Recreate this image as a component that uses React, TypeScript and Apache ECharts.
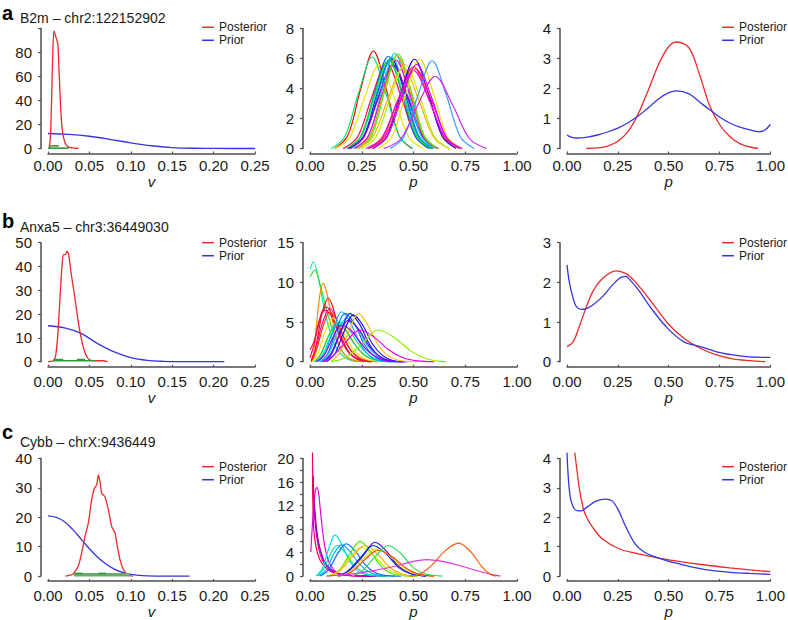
import React, { useEffect, useRef } from 'react';
import * as echarts from 'echarts';

type Pt = [number, number];

const FONT = "'Liberation Sans', Arial, Helvetica, sans-serif";

// ---------- texts ----------
const rowLetters = ['a', 'b', 'c'];
const rowTitles = ['B2m – chr2:122152902', 'Anxa5 – chr3:36449030', 'Cybb – chrX:9436449'];
const legendNames = ['Posterior', 'Prior'];
const axisNames = ['v', 'p', 'p'];

// ---------- tick labels ----------
const vTicks = [0, 0.05, 0.1, 0.15, 0.2, 0.25];
const vTickLabels = ['0.00', '0.05', '0.10', '0.15', '0.20', '0.25'];
const pTicks = [0, 0.25, 0.5, 0.75, 1];
const pTickLabels = ['0.00', '0.25', '0.50', '0.75', '1.00'];
const yTicksLeft = [[0, 20, 40, 60, 80], [0, 10, 20, 30, 40, 50], [0, 10, 20, 30, 40]];
const yMaxLeft = [100, 50, 40];
const yTicksMid = [[0, 2, 4, 6, 8], [0, 5, 10, 15], [0, 4, 8, 12, 16, 20]];
const yMinorMid = [2, 5, 2];
const yTicksRight = [[0, 1, 2, 3, 4], [0, 1, 2, 3], [0, 1, 2, 3, 4]];

// ---------- row a ----------
const aPostV: Pt[] = [[0.0015, 0], [0.003, 10], [0.0045, 45], [0.006, 85], [0.0075, 98], [0.009, 94], [0.0105, 91], [0.012, 86], [0.0135, 62], [0.015, 38], [0.0165, 21], [0.018, 12], [0.02, 6], [0.022, 3], [0.025, 1.2], [0.03, 0.5], [0.037, 0]];
const aPriorV: Pt[] = [[0, 12.5], [0.025, 11.8], [0.05, 10.2], [0.075, 7.6], [0.1, 4.7], [0.125, 2.3], [0.15, 0.8], [0.175, 0.2], [0.2, 0.04], [0.25, 0]];
const aHpdThin: Pt[][] = [[[0, 0.3], [0.025, 0.3]], [[0.001, 2.2], [0.013, 2.2]]];
const aHpdThick: Pt[][] = [];
const aPostP: Pt[] = [[0.095, 0], [0.15, 0.02], [0.2, 0.08], [0.25, 0.24], [0.3, 0.56], [0.35, 1.15], [0.4, 1.95], [0.45, 2.8], [0.5, 3.4], [0.54, 3.55], [0.6, 3.35], [0.65, 2.5], [0.7, 1.45], [0.75, 0.8], [0.8, 0.4], [0.85, 0.16], [0.9, 0.05], [0.94, 0]];
const aPriorP: Pt[] = [[0, 0.45], [0.02, 0.38], [0.05, 0.35], [0.1, 0.38], [0.15, 0.45], [0.2, 0.55], [0.25, 0.68], [0.3, 0.86], [0.35, 1.08], [0.4, 1.36], [0.45, 1.65], [0.5, 1.86], [0.54, 1.92], [0.6, 1.82], [0.65, 1.56], [0.7, 1.3], [0.75, 1.05], [0.8, 0.85], [0.85, 0.71], [0.9, 0.62], [0.94, 0.56], [0.97, 0.6], [1, 0.8]];
const aMid: Pt[][] = [
  [[0.121, 0], [0.183, 0.88], [0.245, 3.97], [0.306, 6.5], [0.368, 3.97], [0.429, 0.88], [0.491, 0]],
  [[0.104, 0], [0.169, 0.82], [0.235, 3.72], [0.3, 6.1], [0.366, 3.72], [0.431, 0.82], [0.497, 0]],
  [[0.122, 0], [0.193, 0.76], [0.264, 3.42], [0.335, 5.6], [0.406, 3.42], [0.477, 0.76], [0.548, 0]],
  [[0.16, 0], [0.23, 0.77], [0.3, 3.48], [0.37, 5.7], [0.44, 3.48], [0.51, 0.77], [0.58, 0]],
  [[0.183, 0], [0.248, 0.83], [0.313, 3.75], [0.378, 6.15], [0.443, 3.75], [0.508, 0.83], [0.573, 0]],
  [[0.178, 0], [0.247, 0.78], [0.316, 3.54], [0.385, 5.8], [0.454, 3.54], [0.523, 0.78], [0.592, 0]],
  [[0.192, 0], [0.259, 0.81], [0.325, 3.66], [0.392, 6.0], [0.459, 3.66], [0.525, 0.81], [0.592, 0]],
  [[0.199, 0], [0.264, 0.82], [0.33, 3.72], [0.395, 6.1], [0.461, 3.72], [0.526, 0.82], [0.592, 0]],
  [[0.187, 0], [0.258, 0.76], [0.329, 3.42], [0.4, 5.6], [0.471, 3.42], [0.542, 0.76], [0.613, 0]],
  [[0.186, 0], [0.258, 0.74], [0.331, 3.36], [0.403, 5.5], [0.476, 3.36], [0.548, 0.74], [0.621, 0]],
  [[0.221, 0], [0.284, 0.86], [0.347, 3.87], [0.41, 6.35], [0.473, 3.87], [0.536, 0.86], [0.599, 0]],
  [[0.213, 0], [0.28, 0.8], [0.348, 3.6], [0.415, 5.9], [0.483, 3.6], [0.55, 0.8], [0.618, 0]],
  [[0.227, 0], [0.291, 0.84], [0.356, 3.78], [0.42, 6.2], [0.485, 3.78], [0.549, 0.84], [0.614, 0]],
  [[0.235, 0], [0.298, 0.85], [0.362, 3.84], [0.425, 6.3], [0.489, 3.84], [0.552, 0.85], [0.616, 0]],
  [[0.176, 0], [0.244, 0.8], [0.312, 3.6], [0.38, 5.9], [0.448, 3.6], [0.516, 0.8], [0.584, 0]],
  [[0.228, 0], [0.302, 0.73], [0.376, 3.29], [0.45, 5.4], [0.524, 3.29], [0.598, 0.73], [0.672, 0]],
  [[0.247, 0], [0.318, 0.76], [0.389, 3.42], [0.46, 5.6], [0.531, 3.42], [0.602, 0.76], [0.673, 0]],
  [[0.28, 0], [0.353, 0.74], [0.427, 3.32], [0.5, 5.45], [0.574, 3.32], [0.647, 0.74], [0.721, 0]],
  [[0.304, 0], [0.371, 0.8], [0.438, 3.63], [0.505, 5.95], [0.572, 3.63], [0.639, 0.8], [0.706, 0]],
  [[0.284, 0], [0.359, 0.72], [0.435, 3.23], [0.51, 5.3], [0.586, 3.23], [0.661, 0.72], [0.737, 0]],
  [[0.269, 0], [0.346, 0.7], [0.423, 3.17], [0.5, 5.2], [0.577, 3.17], [0.654, 0.7], [0.731, 0]],
  [[0.329, 0], [0.396, 0.8], [0.463, 3.63], [0.53, 5.95], [0.597, 3.63], [0.664, 0.8], [0.731, 0]],
  [[0.301, 0], [0.372, 0.76], [0.444, 3.42], [0.515, 5.6], [0.587, 3.42], [0.658, 0.76], [0.73, 0]],
  [[0.386, 0], [0.454, 0.79], [0.522, 3.57], [0.59, 5.85], [0.658, 3.57], [0.726, 0.79], [0.794, 0]],
  [[0.356, 0], [0.439, 0.65], [0.522, 2.93], [0.605, 4.8], [0.688, 2.93], [0.771, 0.65], [0.854, 0]],
];
const aMidColors = ['#ff0000', '#00e673', '#e6e600', '#ff0040', '#0066ff', '#00e6a0', '#0000cc', '#00aaff', '#6600ff', '#9900cc', '#00ccdd', '#ff00cc', '#ff8800', '#44ee00', '#00dd33', '#ffaa00', '#bbee00', '#ff3300', '#2200ff', '#ff0088', '#ee00ee', '#eedd00', '#cc00ff', '#3399ff', '#cc22ee'];

// ---------- row b ----------
const bPostV: Pt[] = [[0, 0], [0.006, 0.3], [0.009, 2], [0.012, 12], [0.015, 30], [0.0175, 43], [0.019, 45], [0.021, 45], [0.023, 46.5], [0.025, 45], [0.028, 37], [0.032, 28], [0.036, 18], [0.04, 10], [0.044, 4.5], [0.048, 1.5], [0.052, 0.6], [0.06, 0.4], [0.066, 0.4], [0.072, 0]];
const bPriorV: Pt[] = [[0, 15.1], [0.02, 14.2], [0.04, 11.9], [0.06, 7.6], [0.08, 4.1], [0.1, 1.7], [0.12, 0.55], [0.14, 0.15], [0.16, 0.03], [0.18, 0], [0.213, 0]];
const bHpdThin: Pt[][] = [[[0.0064, 0.4], [0.0577, 0.4]], [[0.008, 0.9], [0.0185, 0.9]], [[0.035, 0.9], [0.0447, 0.9]]];
const bHpdThick: Pt[][] = [];
const bPostP: Pt[] = [[0, 0.38], [0.03, 0.5], [0.06, 0.88], [0.1, 1.45], [0.13, 1.8], [0.175, 2.1], [0.24, 2.29], [0.29, 2.22], [0.335, 2.02], [0.415, 1.51], [0.495, 0.97], [0.575, 0.59], [0.655, 0.34], [0.735, 0.17], [0.815, 0.07], [0.9, 0.025], [0.975, 0]];
const bPriorP: Pt[] = [[0, 2.44], [0.011, 2.02], [0.03, 1.6], [0.046, 1.39], [0.07, 1.32], [0.095, 1.34], [0.127, 1.43], [0.175, 1.64], [0.223, 1.93], [0.271, 2.14], [0.29, 2.15], [0.303, 2.1], [0.351, 1.81], [0.415, 1.34], [0.495, 0.84], [0.575, 0.5], [0.655, 0.38], [0.736, 0.25], [0.816, 0.17], [0.896, 0.12], [1, 0.11]];
const bMid: Pt[][] = [
  [[0, 11.7], [0.016, 12.6], [0.04, 10.6], [0.065, 7.2], [0.09, 4.4], [0.115, 2.4], [0.145, 1.1], [0.18, 0.35], [0.23, 0]],
  [[0, 10.7], [0.024, 11.55], [0.05, 9.6], [0.08, 6.6], [0.11, 3.9], [0.14, 2.0], [0.17, 0.8], [0.21, 0.2], [0.26, 0]],
  [[0.008, 0], [0.02, 1.5], [0.035, 5.5], [0.05, 8.8], [0.064, 9.9], [0.08, 8.8], [0.1, 6.2], [0.125, 3.4], [0.15, 1.6], [0.18, 0.55], [0.22, 0.1], [0.26, 0]],
  [[0.005, 0], [0.02, 0.9], [0.04, 3.5], [0.06, 6.3], [0.089, 8.0], [0.115, 6.5], [0.14, 4.0], [0.17, 2.0], [0.2, 0.8], [0.24, 0.2], [0.3, 0]],
  [[0, 1.5], [0.02, 2.6], [0.04, 4.8], [0.06, 6.4], [0.08, 6.9], [0.105, 6.0], [0.13, 4.2], [0.16, 2.4], [0.19, 1.1], [0.23, 0.35], [0.29, 0]],
  [[0.005, 0.2], [0.03, 1.8], [0.06, 4.9], [0.097, 6.7], [0.13, 5.3], [0.16, 3.2], [0.2, 1.3], [0.25, 0.3], [0.32, 0]],
  [[0, 0.5], [0.02, 2.2], [0.045, 5.0], [0.072, 6.5], [0.1, 5.9], [0.13, 4.0], [0.16, 2.2], [0.2, 0.8], [0.25, 0.2], [0.3, 0]],
  [[0.01, 0], [0.035, 1.8], [0.065, 4.6], [0.097, 6.3], [0.13, 5.1], [0.165, 3.0], [0.2, 1.4], [0.25, 0.35], [0.33, 0]],
  [[0.01, 0], [0.04, 1.2], [0.075, 3.9], [0.11, 5.5], [0.145, 4.6], [0.18, 2.8], [0.22, 1.2], [0.27, 0.3], [0.34, 0]],
  [[0.02, 0], [0.05, 0.9], [0.09, 3.3], [0.13, 5.0], [0.17, 4.2], [0.21, 2.5], [0.25, 1.1], [0.3, 0.3], [0.38, 0]],
  [[0.02, 0], [0.05, 0.8], [0.09, 3.2], [0.129, 4.8], [0.17, 4.0], [0.21, 2.4], [0.26, 0.9], [0.31, 0.25], [0.38, 0]],
  [[0.03, 0], [0.06, 0.8], [0.1, 3.2], [0.145, 5.0], [0.19, 4.0], [0.235, 2.2], [0.28, 0.9], [0.33, 0.2], [0.4, 0]],
  [[0.04, 0], [0.07, 0.9], [0.11, 3.8], [0.153, 6.3], [0.195, 4.9], [0.24, 2.4], [0.285, 0.8], [0.33, 0.15], [0.4, 0]],
  [[0.05, 0], [0.085, 1.0], [0.125, 3.8], [0.169, 6.1], [0.215, 4.8], [0.26, 2.3], [0.305, 0.8], [0.35, 0.15], [0.42, 0]],
  [[0.05, 0], [0.09, 1.0], [0.13, 3.5], [0.177, 5.5], [0.225, 4.4], [0.27, 2.3], [0.32, 0.8], [0.37, 0.15], [0.44, 0]],
  [[0.07, 0], [0.105, 1.0], [0.15, 3.9], [0.193, 6.1], [0.24, 4.7], [0.285, 2.3], [0.33, 0.8], [0.38, 0.15], [0.45, 0]],
  [[0.08, 0], [0.12, 1.0], [0.165, 3.8], [0.209, 5.9], [0.255, 4.6], [0.3, 2.3], [0.35, 0.8], [0.4, 0.15], [0.47, 0]],
  [[0.06, 0], [0.1, 1.0], [0.14, 3.3], [0.185, 5.2], [0.235, 4.1], [0.285, 2.0], [0.335, 0.7], [0.39, 0.12], [0.46, 0]],
  [[0.1, 0], [0.14, 1.0], [0.19, 3.9], [0.233, 6.1], [0.28, 4.6], [0.33, 2.1], [0.38, 0.7], [0.44, 0.12], [0.52, 0]],
  [[0.06, 0], [0.11, 0.7], [0.17, 2.4], [0.241, 4.0], [0.31, 3.1], [0.38, 1.5], [0.45, 0.5], [0.52, 0.1], [0.6, 0]],
  [[0.1, 0], [0.17, 0.5], [0.25, 2.2], [0.33, 4.0], [0.41, 3.0], [0.49, 1.3], [0.56, 0.4], [0.62, 0.08], [0.66, 0]],
  [[0.03, 0], [0.07, 0.9], [0.11, 3.0], [0.15, 4.6], [0.2, 3.9], [0.25, 2.2], [0.3, 0.9], [0.36, 0.2], [0.43, 0]],
];
const bMidColors = ['#00e6a0', '#33dd33', '#ff8800', '#ff0000', '#ff0040', '#ff0088', '#ee1155', '#ff3300', '#e6e600', '#ffaa00', '#00dd66', '#00ddcc', '#00aaff', '#0066ff', '#00ccee', '#0022dd', '#2200ff', '#6600ff', '#ffbb00', '#dd00dd', '#88ee00', '#9900ee'];

// ---------- row c ----------
const cPostV: Pt[] = [[0.021, 0], [0.03, 0.6], [0.0366, 3.4], [0.0407, 7.9], [0.0447, 13.5], [0.0487, 18], [0.0527, 25.9], [0.056, 29.9], [0.0588, 31], [0.0608, 34.4], [0.0628, 32.1], [0.0649, 28.2], [0.0688, 27], [0.0729, 22.5], [0.0769, 16.9], [0.081, 14.6], [0.083, 11.3], [0.087, 5.6], [0.091, 2.25], [0.0966, 0.3], [0.1026, 0]];
const cPriorV: Pt[] = [[0, 20.5], [0.01, 20], [0.02, 18.5], [0.03, 15.8], [0.04, 12.6], [0.05, 9.3], [0.06, 6.4], [0.07, 4.1], [0.08, 2.4], [0.09, 1.3], [0.1, 0.6], [0.11, 0.25], [0.12, 0.1], [0.14, 0], [0.171, 0]];
const cHpdThin: Pt[][] = [[[0.032, 0.9], [0.042, 0.9]], [[0.0608, 0.9], [0.07, 0.9]]];
const cHpdThick: Pt[][] = [[[0.0314, 0.45], [0.099, 0.45]]];
const cPostP: Pt[] = [[0.038, 4.2], [0.05, 3.55], [0.0625, 2.9], [0.08, 2.3], [0.095, 2.02], [0.127, 1.65], [0.175, 1.26], [0.255, 0.93], [0.335, 0.78], [0.415, 0.66], [0.5, 0.55], [0.6, 0.45], [0.7, 0.36], [0.8, 0.28], [0.9, 0.21], [1, 0.15]];
const cPriorP: Pt[] = [[0, 4.2], [0.005, 3.5], [0.012, 2.9], [0.02, 2.55], [0.035, 2.3], [0.05, 2.23], [0.07, 2.22], [0.095, 2.33], [0.14, 2.54], [0.19, 2.62], [0.223, 2.55], [0.255, 2.21], [0.287, 1.71], [0.335, 1.1], [0.383, 0.8], [0.43, 0.66], [0.47, 0.57], [0.52, 0.47], [0.6, 0.33], [0.7, 0.2], [0.8, 0.13], [0.9, 0.09], [1, 0.06]];
const cMid: Pt[][] = [
  [[0.012, 21], [0.013, 14], [0.016, 9.5], [0.02, 7.2], [0.03, 4.8], [0.045, 3.0], [0.065, 1.8], [0.09, 1.0], [0.12, 0.5], [0.17, 0.15], [0.25, 0.03], [0.37, 0]],
  [[0.012, 19], [0.018, 13], [0.025, 9], [0.035, 6], [0.05, 3.6], [0.07, 2.0], [0.1, 0.9], [0.14, 0.35], [0.2, 0.1], [0.3, 0]],
  [[0.015, 17], [0.02, 13], [0.03, 8.5], [0.04, 6], [0.055, 3.8], [0.075, 2.1], [0.1, 1.1], [0.14, 0.4], [0.2, 0.1], [0.3, 0]],
  [[0.02, 12], [0.03, 8], [0.04, 5.8], [0.06, 3.2], [0.08, 1.9], [0.11, 0.9], [0.15, 0.35], [0.22, 0.08], [0.32, 0]],
  [[0.004, 4.1], [0.015, 10.5], [0.026, 14.5], [0.034, 15.1], [0.042, 14], [0.052, 10.5], [0.065, 6.5], [0.08, 3.6], [0.1, 1.8], [0.13, 0.6], [0.18, 0.1], [0.25, 0]],
  [[0.03, 0], [0.06, 1.3], [0.09, 4.6], [0.121, 7.0], [0.155, 5.3], [0.19, 2.6], [0.23, 0.9], [0.28, 0.2], [0.35, 0]],
  [[0.03, 0], [0.065, 1.2], [0.1, 3.8], [0.13, 5.2], [0.17, 4.0], [0.21, 2.0], [0.26, 0.6], [0.31, 0.1], [0.37, 0]],
  [[0.04, 0], [0.08, 1.2], [0.115, 3.8], [0.153, 5.3], [0.195, 4.1], [0.24, 2.0], [0.29, 0.6], [0.34, 0.1], [0.41, 0]],
  [[0.05, 0], [0.09, 1.1], [0.135, 3.9], [0.175, 5.5], [0.22, 4.2], [0.265, 2.0], [0.315, 0.6], [0.37, 0.1], [0.44, 0]],
  [[0.1, 0], [0.14, 0.9], [0.195, 3.9], [0.242, 5.9], [0.29, 4.3], [0.34, 1.8], [0.39, 0.5], [0.45, 0.08], [0.52, 0]],
  [[0.08, 0], [0.13, 0.7], [0.19, 3.1], [0.25, 4.9], [0.31, 3.4], [0.37, 1.3], [0.43, 0.3], [0.5, 0]],
  [[0.09, 0], [0.14, 0.8], [0.205, 3.3], [0.266, 5.2], [0.325, 3.8], [0.385, 1.5], [0.44, 0.4], [0.51, 0]],
  [[0.14, 0], [0.19, 0.9], [0.26, 3.6], [0.314, 5.75], [0.37, 4.2], [0.43, 1.6], [0.49, 0.4], [0.56, 0]],
  [[0.13, 0], [0.18, 0.8], [0.245, 3.2], [0.306, 5.2], [0.37, 3.7], [0.43, 1.4], [0.49, 0.35], [0.56, 0]],
  [[0.13, 0], [0.19, 0.7], [0.255, 2.9], [0.322, 4.6], [0.39, 3.3], [0.455, 1.2], [0.52, 0.3], [0.6, 0]],
  [[0.14, 0], [0.2, 0.7], [0.265, 2.8], [0.33, 4.4], [0.4, 3.2], [0.47, 1.2], [0.53, 0.3], [0.6, 0]],
  [[0.2, 0], [0.25, 0.8], [0.315, 3.3], [0.378, 5.2], [0.44, 3.8], [0.5, 1.4], [0.56, 0.35], [0.64, 0]],
  [[0.08, 0], [0.2, 0.35], [0.3, 0.9], [0.4, 1.6], [0.5, 2.5], [0.564, 2.8], [0.64, 2.5], [0.72, 1.8], [0.8, 1.0], [0.86, 0.45], [0.92, 0]],
  [[0.48, 0], [0.53, 0.3], [0.59, 1.9], [0.65, 4.2], [0.717, 5.6], [0.78, 4.0], [0.83, 1.6], [0.87, 0.3], [0.9, 0]],
];
const cMidColors = ['#ee0044', '#ff0088', '#cc0033', '#8800ee', '#e000e0', '#00ddee', '#00e6a0', '#00aaff', '#0066ff', '#44ee00', '#bbee00', '#ffaa00', '#4400ee', '#0022ff', '#e6e600', '#ff3300', '#22dd55', '#dd33dd', '#ff5500'];

// ---------- assembled per row ----------
const rows = [
  { postV: aPostV, priorV: aPriorV, hpdThin: aHpdThin, hpdThick: aHpdThick, mid: aMid, midColors: aMidColors, postP: aPostP, priorP: aPriorP },
  { postV: bPostV, priorV: bPriorV, hpdThin: bHpdThin, hpdThick: bHpdThick, mid: bMid, midColors: bMidColors, postP: bPostP, priorP: bPriorP },
  { postV: cPostV, priorV: cPriorV, hpdThin: cHpdThin, hpdThick: cHpdThick, mid: cMid, midColors: cMidColors, postP: cPostP, priorP: cPriorP },
];

// ---------- layout ----------
const colLeft = [48, 310, 567];
const colWidth = [207, 207, 208];
const rowTop = [28.5, 242.7, 458.5];
const rowHeight = [120, 119, 119];
const legendLeft = [202, 722];
const legendTop = [21.3, 236.7, 460.7];
const xLabelMargin = [4, 7, 7];
const letterY = [12.5, 221, 431.5];
const titleY = [17.5, 227, 442];

const RED = '#ee2a2a';
const BLUE = '#3535e0';
const GREEN = '#2f9a3c';
const AXIS = '#4d4d4d';
const TXT = '#1a1a1a';

function labelFor(ticks: number[], labels: string[] | null) {
  return (v: number) => {
    const i = ticks.findIndex((t) => Math.abs(t - v) < 1e-9);
    if (i < 0) return '';
    return labels ? labels[i] : String(ticks[i]);
  };
}

function buildOption() {
  const grid: any[] = [];
  const xAxis: any[] = [];
  const yAxis: any[] = [];
  const series: any[] = [];
  const line = (name: string, data: Pt[], idx: number, color: string, width = 1.2, smooth: number | boolean = 0.35) => ({
    type: 'line', name, data, xAxisIndex: idx, yAxisIndex: idx, showSymbol: false, symbol: 'none',
    smooth, clip: false, silent: true, lineStyle: { color, width }, itemStyle: { color },
    emphasis: { disabled: true },
  });

  for (let r = 0; r < 3; r++) {
    for (let c = 0; c < 3; c++) {
      const idx = r * 3 + c;
      grid.push({ left: colLeft[c], top: rowTop[r], width: colWidth[c], height: rowHeight[r] });
      const xt = c === 0 ? vTicks : pTicks;
      const xl = c === 0 ? vTickLabels : pTickLabels;
      xAxis.push({
        gridIndex: idx, type: 'value', min: xt[0], max: xt[xt.length - 1], interval: xt[1] - xt[0], offset: 5,
        name: axisNames[c], nameLocation: 'middle', nameGap: 20,
        nameTextStyle: { fontStyle: 'italic', fontSize: 15, color: TXT, fontFamily: FONT },
        axisLine: { show: true, onZero: false, lineStyle: { color: AXIS, width: 1.5 } },
        axisTick: { show: true, inside: true, length: 2, lineStyle: { color: AXIS, width: 1.2 } },
        axisLabel: { margin: xLabelMargin[r], fontSize: 15, color: TXT, fontFamily: FONT, formatter: labelFor(xt, xl) },
        splitLine: { show: false },
      });
      let yt: number[];
      let ymax: number;
      let step: number;
      if (c === 0) { yt = yTicksLeft[r]; ymax = yMaxLeft[r]; step = yt[1] - yt[0]; }
      else if (c === 1) { yt = yTicksMid[r]; ymax = yt[yt.length - 1]; step = yMinorMid[r]; }
      else { yt = yTicksRight[r]; ymax = yt[yt.length - 1]; step = yt[1] - yt[0]; }
      yAxis.push({
        gridIndex: idx, type: 'value', min: 0, max: ymax, interval: step, offset: 7,
        axisLine: { show: true, onZero: false, lineStyle: { color: AXIS, width: 1.5 } },
        axisTick: { show: true, inside: false, length: 3, lineStyle: { color: AXIS, width: 1.2 } },
        axisLabel: { margin: 9, fontSize: 15, color: TXT, fontFamily: FONT, formatter: labelFor(yt, null), showMaxLabel: true },
        splitLine: { show: false },
      });
    }
    const d = rows[r];
    const i0 = r * 3, i1 = r * 3 + 1, i2 = r * 3 + 2;
    series.push(line('Prior', d.priorV, i0, BLUE, 1.3));
    series.push(line('Posterior', d.postV, i0, RED, 1.3, 0.2));
    d.hpdThick.forEach((seg, k) => series.push(line(`hpd-thick-${r}-${k}`, seg, i0, '#6aaa6a', 3.5, false)));
    d.hpdThin.forEach((seg, k) => series.push(line(`hpd-${r}-${k}`, seg, i0, GREEN, 1.6, false)));
    d.mid.forEach((curve, k) => series.push(line(`site-${r}-${k}`, curve, i1, d.midColors[k % d.midColors.length], 1.15)));
    series.push(line('Posterior', d.postP, i2, RED, 1.3));
    series.push(line('Prior', d.priorP, i2, BLUE, 1.3));
  }

  const legend: any[] = [];
  for (let r = 0; r < 3; r++) {
    for (let k = 0; k < 2; k++) {
      legend.push({
        data: legendNames, orient: 'vertical', left: legendLeft[k], top: legendTop[r], padding: 0,
        itemGap: 1, itemWidth: 12, itemHeight: 1.5, icon: 'rect', selectedMode: false,
        textStyle: { fontSize: 12, color: TXT, fontFamily: FONT },
      });
    }
  }

  const graphic: any[] = [];
  for (let r = 0; r < 3; r++) {
    graphic.push({ type: 'text', x: 2, y: letterY[r], style: { text: rowLetters[r], font: `bold 20px ${FONT}`, fill: '#000', verticalAlign: 'middle', align: 'left' } });
    graphic.push({ type: 'text', x: 20, y: titleY[r], style: { text: rowTitles[r], font: `14px ${FONT}`, fill: TXT, verticalAlign: 'middle', align: 'left' } });
  }

  return {
    animation: false,
    backgroundColor: '#ffffff',
    textStyle: { fontFamily: FONT },
    grid, xAxis, yAxis, series, legend, graphic,
  };
}

export default function App() {
  const ref = useRef<HTMLDivElement>(null);
  useEffect(() => {
    if (!ref.current) return;
    const chart = echarts.init(ref.current, undefined, { renderer: 'svg' });
    chart.setOption(buildOption() as any);
    return () => chart.dispose();
  }, []);
  return <div ref={ref} style={{ position: 'absolute', left: 0, top: 0, width: 788, height: 620, background: '#fff' }} />;
}
